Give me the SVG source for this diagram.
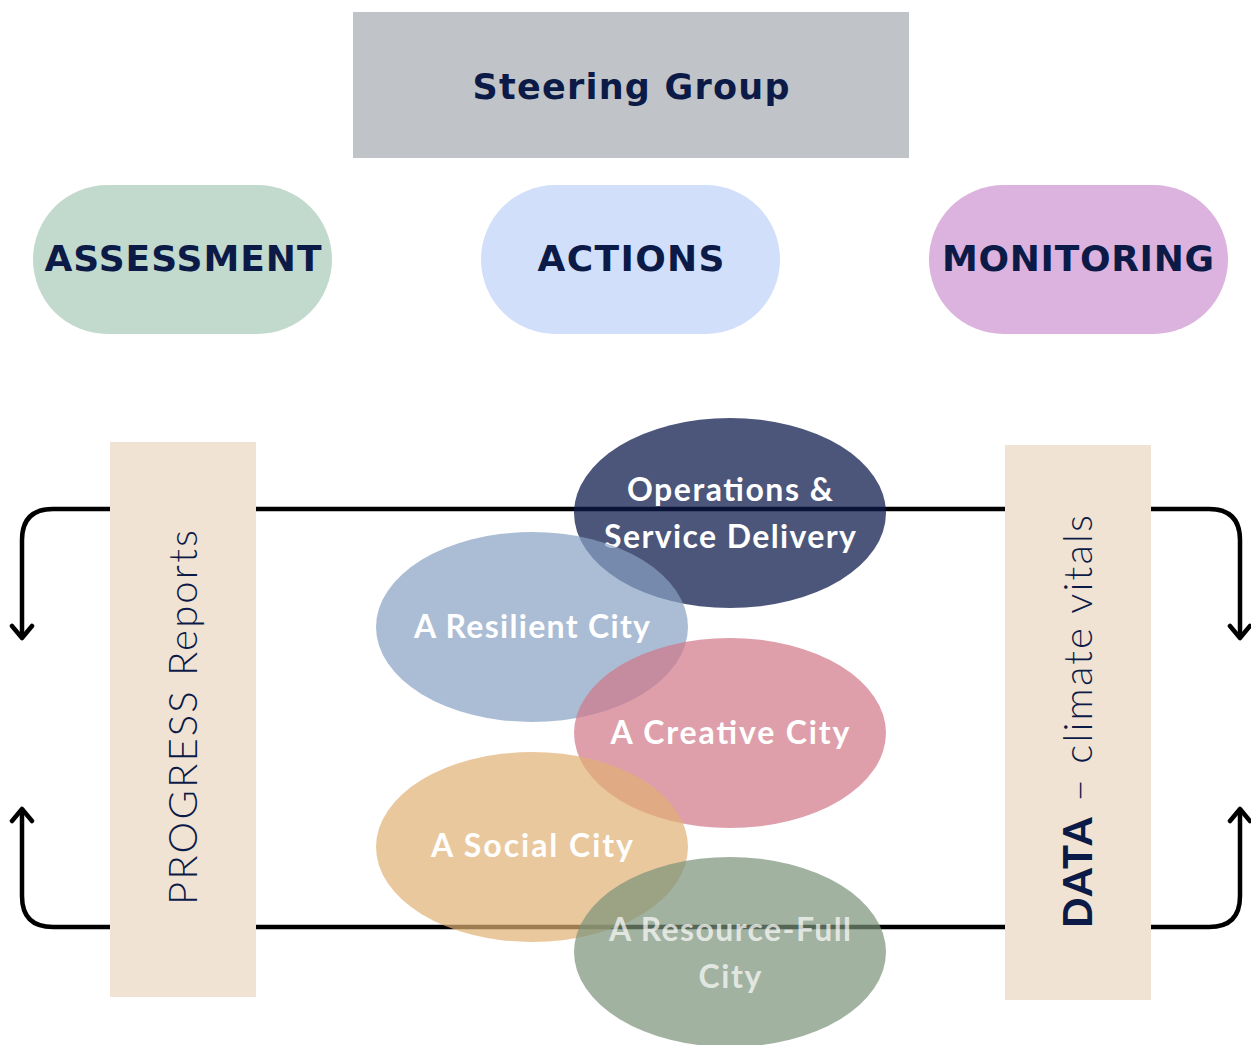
<svg xmlns="http://www.w3.org/2000/svg" width="1251" height="1045" viewBox="0 0 1251 1045">
<defs>
<style>
.hd{font-family:"DejaVu Sans",Lato,sans-serif;font-weight:700;fill:#0c1a47;text-anchor:middle}
.lb{font-family:Lato,"Open Sans","DejaVu Sans",sans-serif;font-weight:700;fill:#ffffff;text-anchor:middle;font-size:32px}
.lt{font-family:Lato,"Open Sans","DejaVu Sans",sans-serif;font-weight:300;fill:#0c1a47}
.conn{fill:none;stroke:#000;stroke-width:4.5;stroke-linejoin:round}
</style>
<marker id="arr" viewBox="-16 -13 20 26" refX="0" refY="0" markerWidth="20" markerHeight="26" markerUnits="userSpaceOnUse" orient="auto-start-reverse">
<path d="M-12,-10 L0,0 L-12,10" fill="none" stroke="#000" stroke-width="4.5" stroke-linecap="round" stroke-linejoin="round"/>
</marker>
</defs>
<rect width="1251" height="1045" fill="#ffffff"/>

<g id="connectors">
<path class="conn" d="M22,638 V540 Q22,509 53,509 H1209 Q1240,509 1240,540 V638" marker-start="url(#arr)" marker-end="url(#arr)"/>
<path class="conn" d="M22,809 V896 Q22,927 53,927 H1209 Q1240,927 1240,896 V809" marker-start="url(#arr)" marker-end="url(#arr)"/>
</g>

<g id="steering-group">
<rect x="353" y="12" width="556" height="146" fill="#c0c4c8"/>
<text class="hd" x="631" y="99" font-size="35" textLength="317" lengthAdjust="spacing">Steering Group</text>
</g>

<g id="assessment">
<rect x="33" y="185" width="299" height="149" rx="74.5" fill="#c2d9cd"/>
<text class="hd" x="183" y="271" font-size="36" textLength="277" lengthAdjust="spacing">ASSESSMENT</text>
</g>

<g id="actions">
<rect x="481" y="185" width="299" height="149" rx="74.5" fill="#d1dffa"/>
<text class="hd" x="631" y="271" font-size="36" textLength="187" lengthAdjust="spacing">ACTIONS</text>
</g>

<g id="monitoring">
<rect x="929" y="185" width="299" height="149" rx="74.5" fill="#dbb3de"/>
<text class="hd" x="1078" y="271" font-size="36" textLength="272" lengthAdjust="spacing">MONITORING</text>
</g>

<g id="progress-reports">
<rect x="110" y="442" width="146" height="555" fill="#f1e3d3"/>
<text class="lt" transform="translate(197,905) rotate(-90)" x="0" y="0" font-size="40" textLength="375" lengthAdjust="spacing">PROGRESS Reports</text>
</g>

<g id="data-climate-vitals">
<rect x="1005" y="445" width="146" height="555" fill="#f1e3d3"/>
<text class="lt" transform="translate(1092,928) rotate(-90)" x="0" y="0" font-size="40" textLength="413" lengthAdjust="spacing"><tspan font-weight="900">DATA</tspan> – climate vitals</text>
</g>

<g id="operations">
<ellipse cx="730" cy="513" rx="156" ry="95" fill="#0d1b4b" fill-opacity="0.74"/>
<text class="lb" x="730" y="501" textLength="206" lengthAdjust="spacing">Operations &amp;</text>
<text class="lb" x="730" y="548" textLength="252" lengthAdjust="spacing">Service Delivery</text>
</g>

<g id="resilient-city">
<ellipse cx="532" cy="627" rx="156" ry="95" fill="#87a1c2" fill-opacity="0.7"/>
<text class="lb" x="532" y="638" textLength="236" lengthAdjust="spacing">A Resilient City</text>
</g>

<g id="creative-city">
<ellipse cx="730" cy="733" rx="156" ry="95" fill="#d07687" fill-opacity="0.7"/>
<text class="lb" x="730" y="744" textLength="239" lengthAdjust="spacing">A Creative City</text>
</g>

<g id="social-city">
<ellipse cx="532" cy="847" rx="156" ry="95" fill="#e1b173" fill-opacity="0.7"/>
<text class="lb" x="532" y="857" textLength="202" lengthAdjust="spacing">A Social City</text>
</g>

<g id="resource-full-city">
<ellipse cx="730" cy="952" rx="156" ry="95" fill="#7a9179" fill-opacity="0.7"/>
<text class="lb" x="730" y="941" fill-opacity="0.7" textLength="242" lengthAdjust="spacing">A Resource-Full</text>
<text class="lb" x="730" y="988" fill-opacity="0.7" textLength="63" lengthAdjust="spacing">City</text>
</g>
</svg>
